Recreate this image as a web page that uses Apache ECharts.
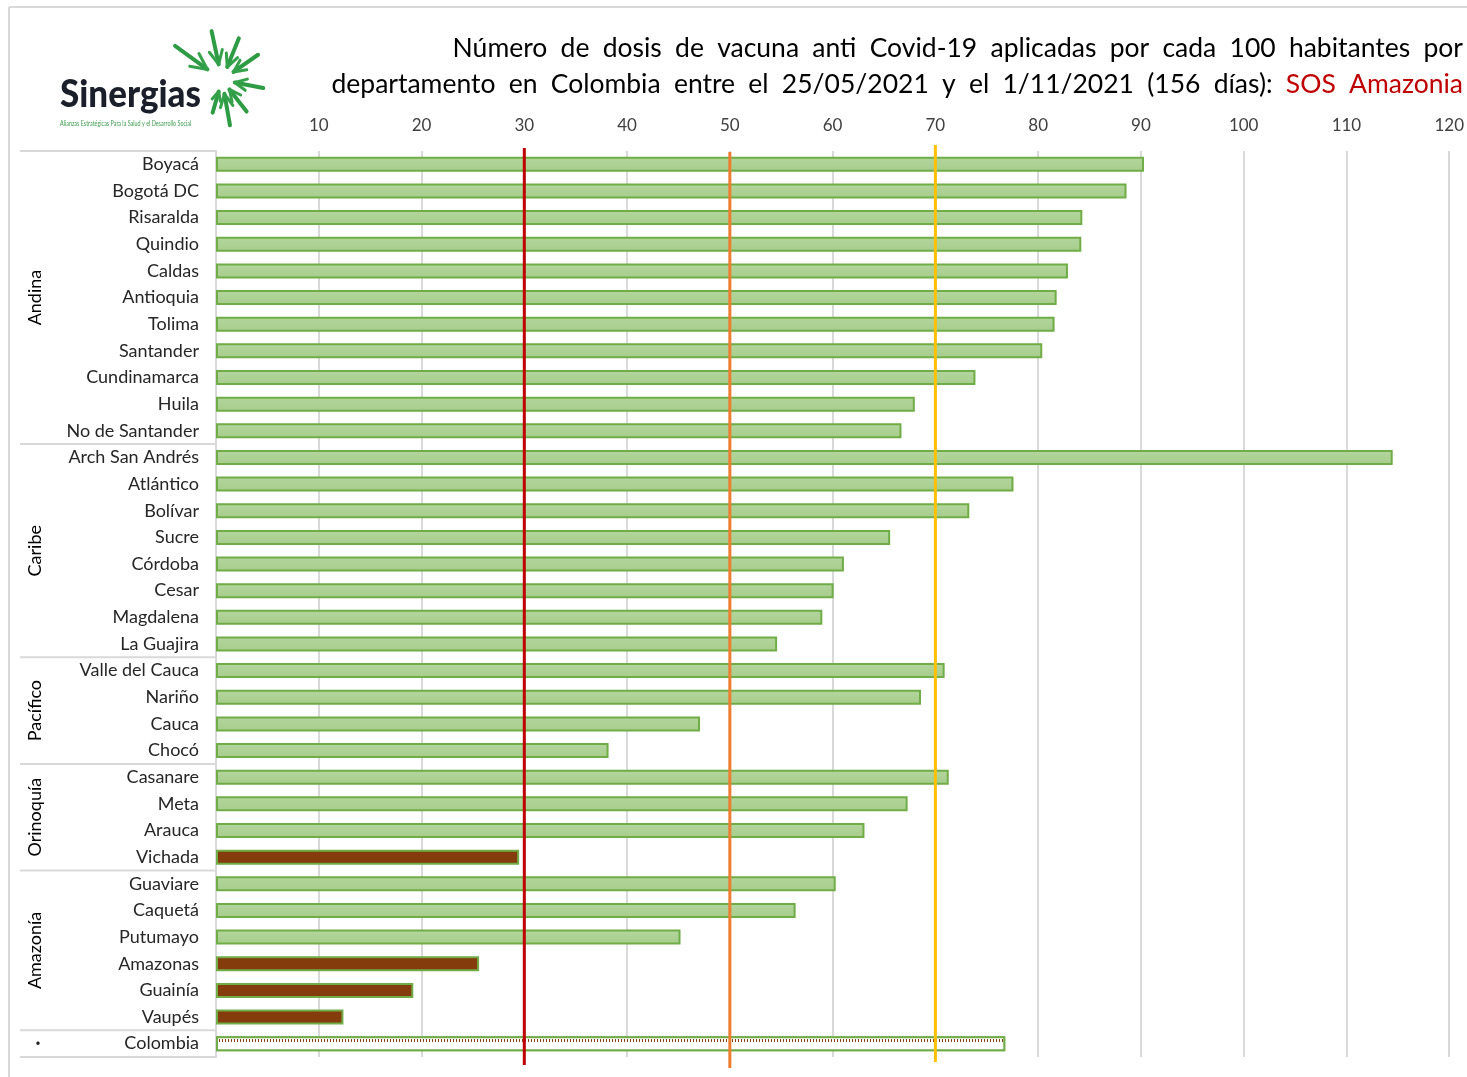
<!DOCTYPE html>
<html><head><meta charset="utf-8">
<script src="https://cdn.jsdelivr.net/npm/echarts@6/dist/echarts.min.js"></script>
<style>html,body{margin:0;padding:0;background:#fff}#c{width:1467px;height:1077px}</style>
</head><body><div id="c"></div>
<script>
// ---------- DATA ----------
const departments = ['Boyacá','Bogotá DC','Risaralda','Quindio','Caldas','Antioquia','Tolima','Santander','Cundinamarca','Huila','No de Santander',
  'Arch San Andrés','Atlántico','Bolívar','Sucre','Córdoba','Cesar','Magdalena','La Guajira',
  'Valle del Cauca','Nariño','Cauca','Chocó',
  'Casanare','Meta','Arauca','Vichada',
  'Guaviare','Caquetá','Putumayo','Amazonas','Guainía','Vaupés',
  'Colombia'];
const doses = [90.3, 88.6, 84.3, 84.2, 82.9, 81.8, 81.6, 80.4, 73.9, 68.0, 66.7,
  114.5, 77.6, 73.3, 65.6, 61.1, 60.1, 59.0, 54.6,
  70.9, 68.6, 47.1, 38.2,
  71.3, 67.3, 63.1, 29.5,
  60.3, 56.4, 45.2, 25.6, 19.2, 12.4,
  76.8];
const regionNames = ['Andina','Caribe','Pacífico','Orinoquía','Amazonía','.'];
const regionSizes = [11, 8, 4, 4, 6, 1];
const lowCoverage = ['Vichada','Amazonas','Guainía','Vaupés'];
const nationalLabel = 'Colombia';
const thresholds = [30, 50, 70];
const xMin = 0, xMax = 120, xStep = 10;
const titleLine1 = 'Número de dosis de vacuna anti Covid-19 aplicadas por cada 100 habitantes por';
const titleLine2 = 'departamento en Colombia entre el 25/05/2021 y el 1/11/2021 (156 días): ';
const titleHighlight = 'SOS Amazonia';

// ---------- STYLE ----------
const FONT = 'Lato';
const thresholdColors = ['#C00000', '#ED7D31', '#FFC000'];
const thresholdExt = [[148, 1065], [152, 1068], [145, 1062]];
const greenFill = new echarts.graphic.LinearGradient(0,0,0,1,[{offset:0,color:'#B4D69E'},{offset:1,color:'#A6CD8B'}]);
const justify = s => s.replace(/ /g, '\u2002');

const barData = departments.map((d, i) => {
  let st;
  if (d === nationalLabel) {
    st = {color:'#ffffff', borderColor:'#70AD47', borderWidth:2,
      decal:{symbol:'rect', color:'#8B3E10', backgroundColor:'#ffffff', symbolSize:1,
             dashArrayX:[1,2], dashArrayY:[0,4,3,8], rotation:0}};
  } else if (lowCoverage.includes(d)) {
    st = {color:'#843C0C', borderColor:'#70AD47', borderWidth:2};
  } else {
    st = {color:greenFill, borderColor:'#70AD47', borderWidth:2};
  }
  return {value: doses[i], itemStyle: st};
});

const chart = echarts.init(document.getElementById('c'), null, {renderer:'canvas'});
chart.setOption({
  animation:false,
  backgroundColor:'#ffffff',
  textStyle:{fontFamily:FONT},
  grid:{left:216, right:17, top:151, bottom:20, containLabel:false},
  xAxis:{type:'value', position:'top', min:xMin, max:xMax, interval:xStep,
    axisLine:{show:false}, axisTick:{show:false},
    axisLabel:{showMinLabel:false, fontSize:17, color:'#404040', margin:17, fontFamily:FONT},
    splitLine:{show:true, lineStyle:{color:'#D9D9D9', width:2}}},
  yAxis:{type:'category', inverse:true, data:departments,
    axisLine:{show:true, lineStyle:{color:'#D9D9D9', width:2}},
    axisTick:{show:false},
    axisLabel:{fontSize:18, color:'#262626', margin:17, fontFamily:FONT}},
  series:[{type:'bar', data:barData, barWidth:15}]
});

// ---------- overlays computed via the chart's scales ----------
const g = [];
g.push({type:'line', shape:{x1:9,y1:7,x2:1467,y2:7}, style:{stroke:'#D9D9D9', lineWidth:2}, z:1});
g.push({type:'line', shape:{x1:9,y1:7,x2:9,y2:1077}, style:{stroke:'#D9D9D9', lineWidth:2}, z:1});

const y0 = chart.convertToPixel({yAxisIndex:0}, departments[0]);
const y1 = chart.convertToPixel({yAxisIndex:0}, departments[1]);
const band = y1 - y0;
const axisX = chart.convertToPixel({xAxisIndex:0}, xMin);

thresholds.forEach((t, i) => {
  const x = chart.convertToPixel({xAxisIndex:0}, t);
  g.push({type:'line', shape:{x1:x, y1:thresholdExt[i][0], x2:x, y2:thresholdExt[i][1]},
    style:{stroke:thresholdColors[i], lineWidth:3}, z:50});
});

let idx = 0;
const sepLeft = 20;
g.push({type:'line', shape:{x1:sepLeft, y1:y0 - band/2, x2:axisX, y2:y0 - band/2}, style:{stroke:'#D9D9D9', lineWidth:2}, z:5});
regionNames.forEach((r, k) => {
  const first = chart.convertToPixel({yAxisIndex:0}, departments[idx]);
  const last = chart.convertToPixel({yAxisIndex:0}, departments[idx + regionSizes[k] - 1]);
  const bottom = last + band/2;
  g.push({type:'line', shape:{x1:sepLeft, y1:bottom, x2:axisX, y2:bottom}, style:{stroke:'#D9D9D9', lineWidth:2}, z:5});
  const cy = (first + last) / 2;
  if (r === '.') {
    g.push({type:'text', x:38, y:cy, style:{text:'·', font:'bold 18px ' + FONT, fill:'#262626', align:'center', verticalAlign:'middle'}, z:5});
  } else {
    g.push({type:'text', x:35, y:cy, rotation:Math.PI/2, style:{text:r, font:'18px ' + FONT, fill:'#000000', align:'center', verticalAlign:'middle'}, z:5});
  }
  idx += regionSizes[k];
});

// title
g.push({type:'text', x:1463, y:48, style:{text:justify(titleLine1), font:'26.5px ' + FONT, fill:'#000000', align:'right', verticalAlign:'middle'}, z:10});
g.push({type:'text', x:1463, y:84, style:{
  text:'{a|' + justify(titleLine2) + '}{b|' + justify(titleHighlight) + '}', align:'right', verticalAlign:'middle',
  rich:{a:{font:'26.5px ' + FONT, fill:'#000000'}, b:{font:'26.5px ' + FONT, fill:'#C00000'}}}, z:10});

// logo
g.push({type:'text', x:60, y:95, scaleX:0.92, style:{text:'Sinergias', font:'900 38px ' + FONT, fill:'#1B1F2A', align:'left', verticalAlign:'middle'}, z:10});
g.push({type:'text', x:60, y:124, scaleX:0.72, style:{text:'Alianzas Estratégicas Para la Salud y el Desarrollo Social', font:'7.5px ' + FONT, fill:'#3C9A4E', align:'left', verticalAlign:'middle'}, z:10});
const cx = 222, cy0 = 80;
const blades = [[216,58,18],[258,50,16],[292,45,14],[325,44,14],[11,42,13],[52,40,12],[80,46,14],[106,34,12]];
blades.forEach(b => {
  const a = b[0] * Math.PI/180, L = b[1], r0 = b[2];
  const ix = cx + Math.cos(a)*r0, iy = cy0 + Math.sin(a)*r0;
  const ox = cx + Math.cos(a)*L, oy = cy0 + Math.sin(a)*L;
  g.push({type:'line', shape:{x1:ix,y1:iy,x2:ox,y2:oy}, style:{stroke:'#2E9B45', lineWidth:4, lineCap:'round'}, z:10});
  [0.45, -0.45].forEach(s => {
    const bl = (L - r0) * 0.45;
    const ba = a + s;
    g.push({type:'line', shape:{x1:ix,y1:iy,x2:ix + Math.cos(ba)*bl, y2:iy + Math.sin(ba)*bl},
      style:{stroke:'#35A24B', lineWidth:3, lineCap:'round'}, z:10});
  });
});

chart.setOption({graphic:{elements:g}});
</script>
</body></html>
